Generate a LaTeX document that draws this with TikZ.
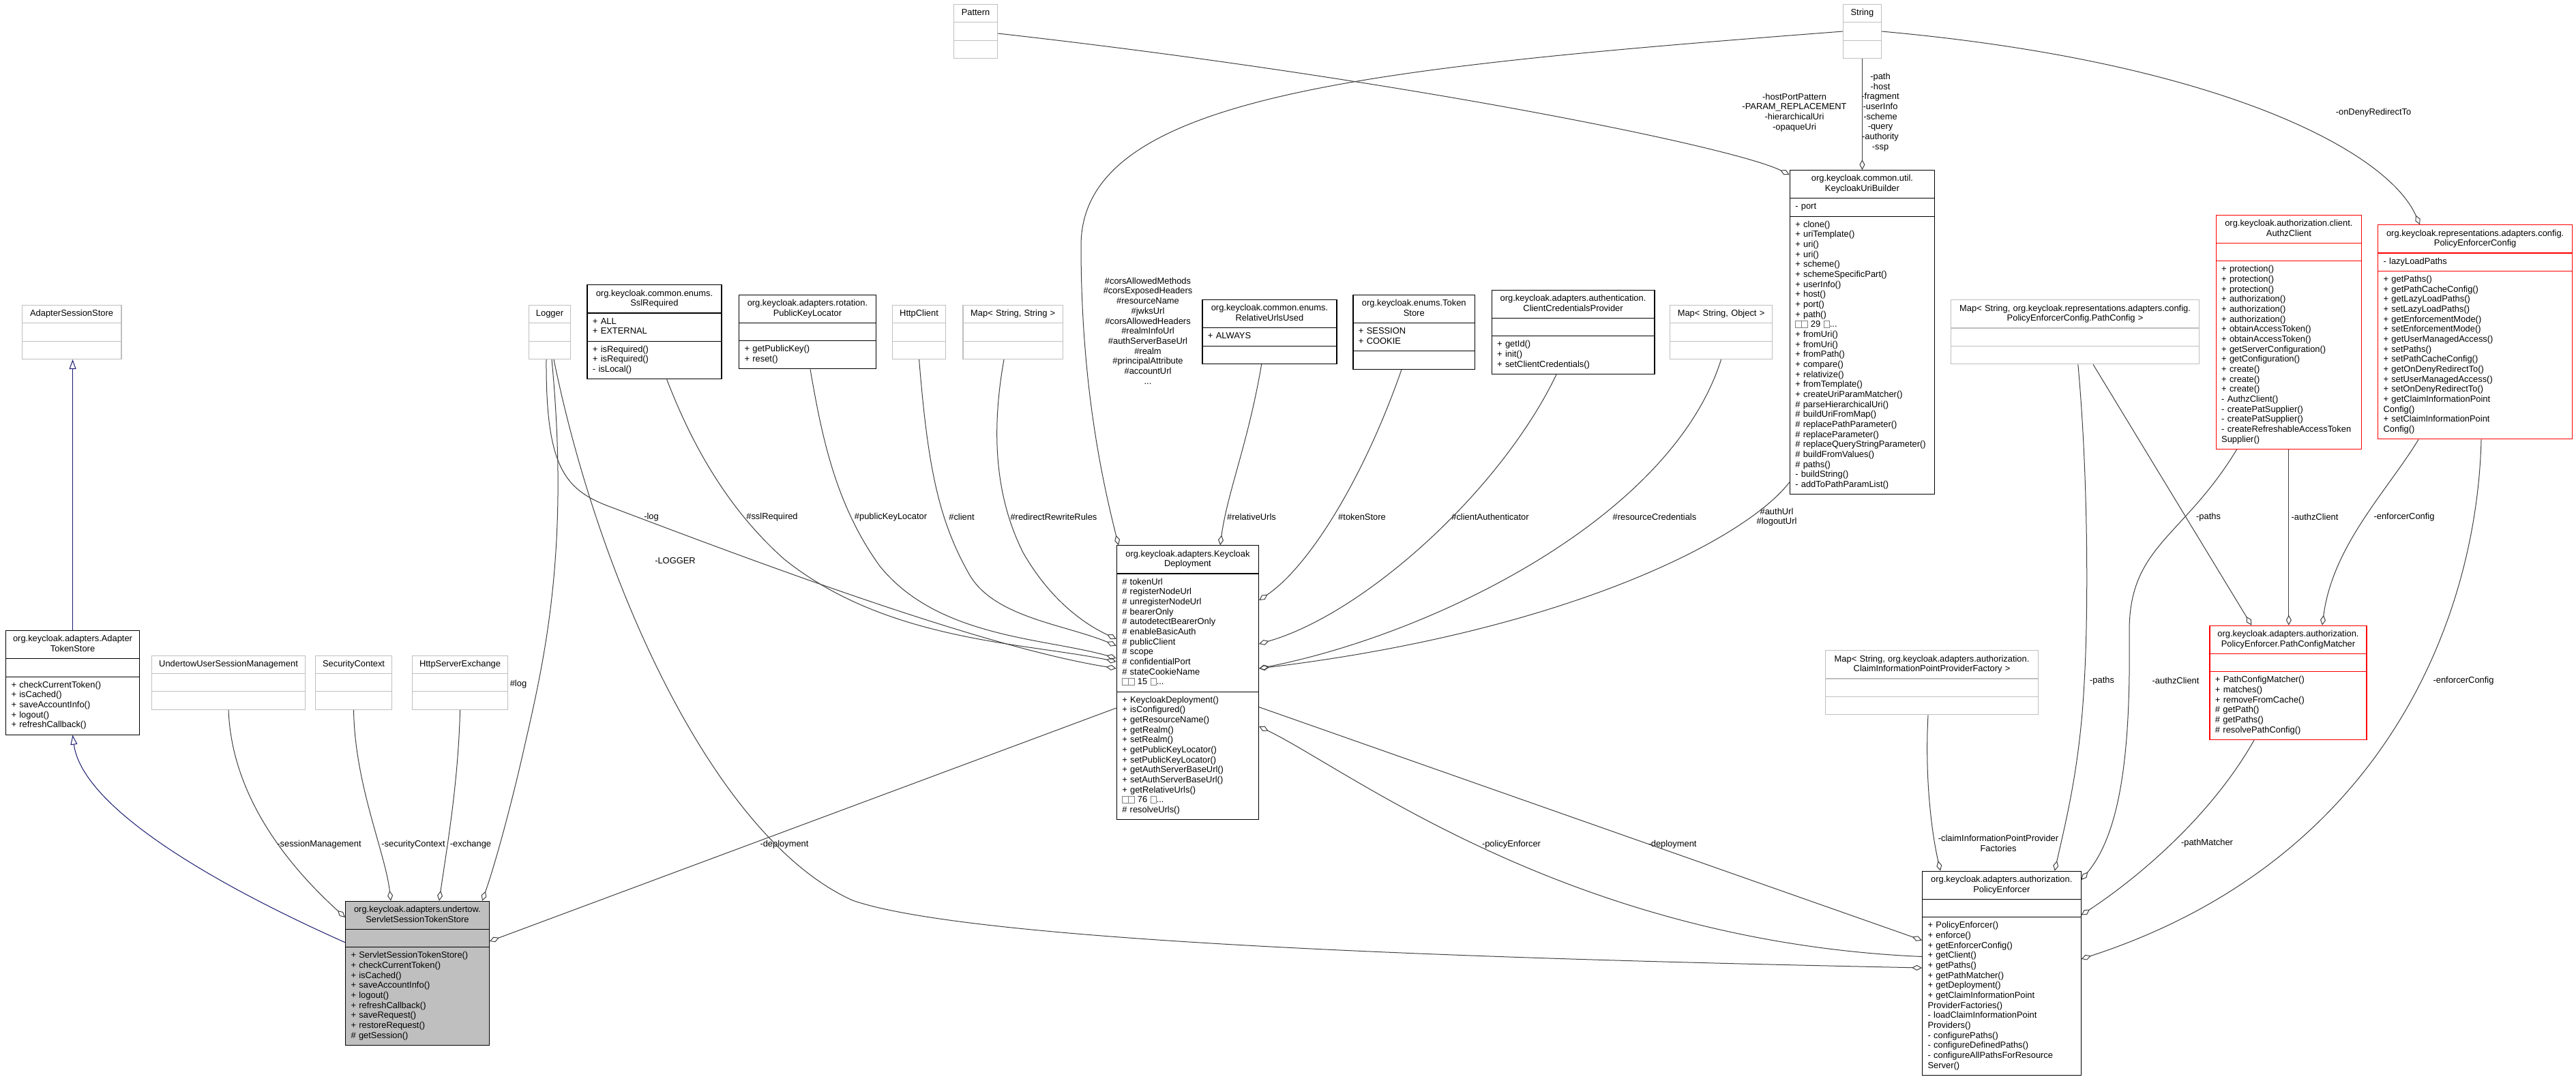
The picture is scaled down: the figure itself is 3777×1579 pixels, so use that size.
\documentclass[tikz,border=0pt]{standalone}
\usepackage{fontspec}
\setmainfont{Liberation Sans}
\usetikzlibrary{shapes.multipart,arrows.meta}
\definecolor{edgegray}{HTML}{404040}
\definecolor{extgray}{HTML}{BFBFBF}
\definecolor{inhblue}{HTML}{191970}
\newcommand{\dxfont}{\fontsize{12.9pt}{14.67pt}\selectfont}
\newcommand{\lalign}{\raggedright\parfillskip=0pt plus 1fil\relax}
\newcommand{\gbox}{{\setlength{\fboxsep}{0pt}\setlength{\fboxrule}{0.6pt}\color{gray}\fbox{\rule{0pt}{9pt}\hspace{8pt}}}}
\tikzstyle{classbox} = [rectangle split, rectangle split parts=3, draw, fill=white, anchor=north west, font=\dxfont, align=center, inner xsep=8pt, inner ysep=5.33pt, line width=1.1pt]
\tikzstyle{docbox} = [classbox, draw=black]
\tikzstyle{extbox} = [classbox, draw=extgray]
\tikzstyle{redbox} = [classbox, draw=red]
\tikzstyle{selfbox} = [classbox, draw=black, fill=extgray]
\tikzstyle{aggline} = [draw=edgegray, line width=1pt, -{Diamond[open, length=15pt, width=8pt]}]
\tikzstyle{inhline} = [draw=inhblue, line width=1pt, -{Triangle[open, length=14pt, width=10pt]}]
\tikzstyle{edgelbl} = [font=\dxfont, align=center, inner sep=0pt]

\begin{document}
\begin{tikzpicture}[x=1pt, y=-1pt]
	\path[fill=white, use as bounding box] (0,0) rectangle (3777,1579);
	% rank 0
	\node [extbox, text width=48pt] (pattern) at (1398,5.7) {\strut Pattern\strut \nodepart{two}\strut \nodepart{three}\strut};
	\node [extbox, text width=39.7pt] (string) at (2702,5.7) {\strut String\strut \nodepart{two}\strut \nodepart{three}\strut};
	% rank 2
	\node [extbox, text width=129.8pt] (adss) at (31.6,446.7) {\strut AdapterSessionStore\strut \nodepart{two}\strut \nodepart{three}\strut};
	\node [extbox, text width=45pt] (logger) at (775,446.7) {\strut Logger\strut \nodepart{two}\strut \nodepart{three}\strut};
	\node [docbox, text width=181pt] (sslreq) at (860.4,417.3) {\strut org.keycloak.common.enums.\\SslRequired\strut
		\nodepart{two}\lalign\strut + ALL\\+ EXTERNAL\strut\par
		\nodepart{three}\lalign\strut + isRequired()\\+ isRequired()\\- isLocal()\strut\par};
	\node [docbox, text width=184.8pt] (pkloc) at (1083,431.7) {\strut org.keycloak.adapters.rotation.\\PublicKeyLocator\strut
		\nodepart{two}\strut
		\nodepart{three}\lalign\strut + getPublicKey()\\+ reset()\strut\par};
	\node [extbox, text width=62pt] (httpc) at (1308,446.7) {\strut HttpClient\strut \nodepart{two}\strut \nodepart{three}\strut};
	\node [extbox, text width=130.6pt] (mapss) at (1411.4,446.7) {\strut Map< String, String >\strut \nodepart{two}\strut \nodepart{three}\strut};
	\node [docbox, text width=181pt] (relurl) at (1762.4,439) {\strut org.keycloak.common.enums.\\RelativeUrlsUsed\strut
		\nodepart{two}\lalign\strut + ALWAYS\strut\par
		\nodepart{three}\strut};
	\node [docbox, text width=162.6pt] (tstore) at (1983.4,432) {\strut org.keycloak.enums.Token\\Store\strut
		\nodepart{two}\lalign\strut + SESSION\\+ COOKIE\strut\par
		\nodepart{three}\strut};
	\node [docbox, text width=222.8pt] (ccprov) at (2186.6,424.7) {\strut org.keycloak.adapters.authentication.\\ClientCredentialsProvider\strut
		\nodepart{two}\strut
		\nodepart{three}\lalign\strut + getId()\\+ init()\\+ setClientCredentials()\strut\par};
	\node [extbox, text width=134pt] (mapso) at (2448,446.7) {\strut Map< String, Object >\strut \nodepart{two}\strut \nodepart{three}\strut};
	\node [docbox, text width=196.4pt] (kub) at (2623.7,249) {\strut org.keycloak.common.util.\\KeycloakUriBuilder\strut
		\nodepart{two}\lalign\strut - port\strut\par
		\nodepart{three}\lalign\strut + clone()\\+ uriTemplate()\\+ uri()\\+ uri()\\+ scheme()\\+ schemeSpecificPart()\\+ userInfo()\\+ host()\\+ port()\\+ path()\\\gbox\gbox{} 29 \gbox...\\+ fromUri()\\+ fromUri()\\+ fromPath()\\+ compare()\\+ relativize()\\+ fromTemplate()\\+ createUriParamMatcher()\\\# parseHierarchicalUri()\\\# buildUriFromMap()\\\# replacePathParameter()\\\# replaceParameter()\\\# replaceQueryStringParameter()\\\# buildFromValues()\\\# paths()\\- buildString()\\- addToPathParamList()\strut\par};
	\node [extbox, text width=348pt] (mappc) at (2860,439.3) {\strut Map< String, org.keycloak.representations.adapters.config.\\PolicyEnforcerConfig.PathConfig >\strut \nodepart{two}\strut \nodepart{three}\strut};
	\node [redbox, text width=197.4pt] (authz) at (3248.6,314.7) {\strut org.keycloak.authorization.client.\\AuthzClient\strut
		\nodepart{two}\strut
		\nodepart{three}\lalign\strut + protection()\\+ protection()\\+ protection()\\+ authorization()\\+ authorization()\\+ authorization()\\+ obtainAccessToken()\\+ obtainAccessToken()\\+ getServerConfiguration()\\+ getConfiguration()\\+ create()\\+ create()\\+ create()\\- AuthzClient()\\- createPatSupplier()\\- createPatSupplier()\\- createRefreshableAccessToken\\Supplier()\strut\par};
	\node [redbox, text width=269.2pt] (pecfg) at (3486,329.3) {\strut org.keycloak.representations.adapters.config.\\PolicyEnforcerConfig\strut
		\nodepart{two}\lalign\strut - lazyLoadPaths\strut\par
		\nodepart{three}\lalign\strut + getPaths()\\+ getPathCacheConfig()\\+ getLazyLoadPaths()\\+ setLazyLoadPaths()\\+ getEnforcementMode()\\+ setEnforcementMode()\\+ getUserManagedAccess()\\+ setPaths()\\+ setPathCacheConfig()\\+ getOnDenyRedirectTo()\\+ setUserManagedAccess()\\+ setOnDenyRedirectTo()\\+ getClaimInformationPoint\\Config()\\+ setClaimInformationPoint\\Config()\strut\par};
	% rank 4
	\node [docbox, text width=180pt] (ats) at (8,924) {\strut org.keycloak.adapters.Adapter\\TokenStore\strut
		\nodepart{two}\strut
		\nodepart{three}\lalign\strut + checkCurrentToken()\\+ isCached()\\+ saveAccountInfo()\\+ logout()\\+ refreshCallback()\strut\par};
	\node [extbox, text width=209pt] (uusm) at (222,960.5) {\strut UndertowUserSessionManagement\strut \nodepart{two}\strut \nodepart{three}\strut};
	\node [extbox, text width=96pt] (secctx) at (462,960.5) {\strut SecurityContext\strut \nodepart{two}\strut \nodepart{three}\strut};
	\node [extbox, text width=124pt] (hsex) at (604,960.5) {\strut HttpServerExchange\strut \nodepart{two}\strut \nodepart{three}\strut};
	\node [docbox, text width=192.3pt] (kdep) at (1636.7,799.3) {\strut org.keycloak.adapters.Keycloak\\Deployment\strut
		\nodepart{two}\lalign\strut \# tokenUrl\\\# registerNodeUrl\\\# unregisterNodeUrl\\\# bearerOnly\\\# autodetectBearerOnly\\\# enableBasicAuth\\\# publicClient\\\# scope\\\# confidentialPort\\\# stateCookieName\\\gbox\gbox{} 15 \gbox...\strut\par
		\nodepart{three}\lalign\strut + KeycloakDeployment()\\+ isConfigured()\\+ getResourceName()\\+ getRealm()\\+ setRealm()\\+ getPublicKeyLocator()\\+ setPublicKeyLocator()\\+ getAuthServerBaseUrl()\\+ setAuthServerBaseUrl()\\+ getRelativeUrls()\\\gbox\gbox{} 76 \gbox...\\\# resolveUrls()\strut\par};
	\node [extbox, text width=296pt] (mapcip) at (2676,953.3) {\strut Map< String, org.keycloak.adapters.authorization.\\ClaimInformationPointProviderFactory >\strut \nodepart{two}\strut \nodepart{three}\strut};
	\node [redbox, text width=214pt] (pcm) at (3239.4,916.7) {\strut org.keycloak.adapters.authorization.\\PolicyEnforcer.PathConfigMatcher\strut
		\nodepart{two}\strut
		\nodepart{three}\lalign\strut + PathConfigMatcher()\\+ matches()\\+ removeFromCache()\\\# getPath()\\\# getPaths()\\\# resolvePathConfig()\strut\par};
	% rank 6
	\node [selfbox, text width=194.7pt] (ssts) at (506,1320.7) {\strut org.keycloak.adapters.undertow.\\ServletSessionTokenStore\strut
		\nodepart{two}\strut
		\nodepart{three}\lalign\strut + ServletSessionTokenStore()\\+ checkCurrentToken()\\+ isCached()\\+ saveAccountInfo()\\+ logout()\\+ refreshCallback()\\+ saveRequest()\\+ restoreRequest()\\\# getSession()\strut\par};
	\node [docbox, text width=216.5pt] (penf) at (2818,1276.7) {\strut org.keycloak.adapters.authorization.\\PolicyEnforcer\strut
		\nodepart{two}\strut
		\nodepart{three}\lalign\strut + PolicyEnforcer()\\+ enforce()\\+ getEnforcerConfig()\\+ getClient()\\+ getPaths()\\+ getPathMatcher()\\+ getDeployment()\\+ getClaimInformationPoint\\ProviderFactories()\\- loadClaimInformationPoint\\Providers()\\- configurePaths()\\- configureDefinedPaths()\\- configureAllPathsForResource\\Server()\strut\par};
	% edge labels
	\node [edgelbl] (l-uri1) at (2631,164.7) {-hostPortPattern\\-PARAM\_REPLACEMENT\\-hierarchicalUri\\-opaqueUri};
	\node [edgelbl] (l-uri2) at (2757,164.4) {-path\\-host\\-fragment\\-userInfo\\-scheme\\-query\\-authority\\-ssp};
	\node [edgelbl] (l-deny) at (3480,165) {-onDenyRedirectTo};
	\node [edgelbl] (l-cors) at (1683,485) {\#corsAllowedMethods\\\#corsExposedHeaders\\\#resourceName\\\#jwksUrl\\\#corsAllowedHeaders\\\#realmInfoUrl\\\#authServerBaseUrl\\\#realm\\\#principalAttribute\\\#accountUrl\\...};
	\node [edgelbl] (l-log) at (955,758) {-log};
	\node [edgelbl] (l-ssl) at (1132,758) {\#sslRequired};
	\node [edgelbl] (l-pkl) at (1306,758) {\#publicKeyLocator};
	\node [edgelbl] (l-cli) at (1410,758) {\#client};
	\node [edgelbl] (l-rrr) at (1545,758) {\#redirectRewriteRules};
	\node [edgelbl] (l-rel) at (1835,758) {\#relativeUrls};
	\node [edgelbl] (l-tok) at (1997,758) {\#tokenStore};
	\node [edgelbl] (l-cca) at (2185,758) {\#clientAuthenticator};
	\node [edgelbl] (l-rcr) at (2426,758) {\#resourceCredentials};
	\node [edgelbl] (l-aut) at (2605,758) {\#authUrl\\\#logoutUrl};
	\node [edgelbl] (l-pth1) at (3238,758) {-paths};
	\node [edgelbl] (l-azc1) at (3394,758) {-authzClient};
	\node [edgelbl] (l-enf1) at (3525,758) {-enforcerConfig};
	\node [edgelbl] (l-hlog) at (760,1003) {\#log};
	\node [edgelbl] (l-logger) at (990,822) {-LOGGER};
	\node [edgelbl] (l-pth2) at (3082,998) {-paths};
	\node [edgelbl] (l-azc2) at (3190,998) {-authzClient};
	\node [edgelbl] (l-enf2) at (3612,998) {-enforcerConfig};
	\node [edgelbl] (l-ses) at (468,1238) {-sessionManagement};
	\node [edgelbl] (l-sec) at (606,1238) {-securityContext};
	\node [edgelbl] (l-exc) at (690,1238) {-exchange};
	\node [edgelbl] (l-dep1) at (1150,1238) {-deployment};
	\node [edgelbl] (l-pol) at (2216,1238) {-policyEnforcer};
	\node [edgelbl] (l-dep2) at (2452,1238) {-deployment};
	\node [edgelbl] (l-cip) at (2930,1236.5) {-claimInformationPointProvider\\Factories};
	\node [edgelbl] (l-pm) at (3236,1236) {-pathMatcher};
	% inheritance
	\draw[inhline] (ats.north) -- (ats.north |- adss.south);
	\draw[inhline] (ssts.west |- 0,1381.7) .. controls (300,1290) and (120,1180) .. (ats.south);
	% members from rank 0
	\draw[aggline] (pattern.east |- 0,49) .. controls (2050,115) and (2540,215) .. (kub.west |- 0,256);
	\draw[aggline] (string.south) -- (string.south |- kub.north);
	\draw[aggline] (string.east |- 0,46) .. controls (3250,90) and (3500,220) .. (pecfg.north -| 3548,0);
	\draw[aggline] (string.west |- 0,46) .. controls (2000,100) and (1585,140) .. (1585,360) .. controls (1585,560) and (1615,700) .. (kdep.north -| 1640,0);
	% members of KeycloakDeployment
	\draw[aggline] (logger.south -| 801,0) .. controls (800,690) and (830,720) .. (900,745) .. controls (1150,840) and (1450,950) .. (kdep.west |- 0,980);
	\draw[aggline] (sslreq.south -| 977.7,0) .. controls (1010,640) and (1060,740) .. (1150,820) .. controls (1300,940) and (1500,942) .. (kdep.west |- 0,970);
	\draw[aggline] (pkloc.south -| 1188,0) .. controls (1205,640) and (1225,740) .. (1290,830) .. controls (1375,935) and (1530,935) .. (kdep.west |- 0,965);
	\draw[aggline] (httpc.south -| 1347.6,0) .. controls (1360,680) and (1375,760) .. (1420,840) .. controls (1455,905) and (1560,915) .. (kdep.west |- 0,946.7);
	\draw[aggline] (mapss.south -| 1472,0) .. controls (1450,650) and (1465,740) .. (1500,810) .. controls (1540,880) and (1590,915) .. (kdep.west |- 0,936.7);
	\draw[aggline] (relurl.south -| 1849.7,0) .. controls (1830,650) and (1800,720) .. (kdep.north -| 1789,0);
	\draw[aggline] (tstore.south -| 2055,0) .. controls (2000,700) and (1920,830) .. (kdep.east |- 0,880);
	\draw[aggline] (ccprov.south -| 2282,0) .. controls (2200,720) and (2000,900) .. (kdep.east |- 0,944);
	\draw[aggline] (mapso.south) .. controls (2450,760) and (2100,930) .. (kdep.east |- 0,980);
	\draw[aggline] (kub.west |- 0,707) .. controls (2560,790) and (2300,925) .. (kdep.east |- 0,980);
	\draw[aggline] (penf.west |- 0,1402.5) .. controls (2300,1380) and (1980,1130) .. (kdep.east |- 0,1065);
	% members of PathConfigMatcher
	\draw[aggline] (mappc.south -| 3069,0) -- (pcm.north -| 3301.3,0);
	\draw[aggline] (authz.south) -- (authz.south |- pcm.north);
	\draw[aggline] (pecfg.south -| 3546,0) .. controls (3500,720) and (3420,800) .. (pcm.north -| 3405,0);
	% members of PolicyEnforcer
	\draw[aggline] (mappc.south -| 3046.8,0) .. controls (3062,700) and (3062,900) .. (3056,1000) .. controls (3050,1120) and (3030,1200) .. (penf.north -| 3012.6,0);
	\draw[aggline] (authz.south -| 3279.5,0) .. controls (3200,790) and (3120,800) .. (3122,930) .. controls (3124,1100) and (3110,1220) .. (penf.east |- 0,1290);
	\draw[aggline] (pecfg.south -| 3638,0) .. controls (3632,900) and (3500,1260) .. (penf.east |- 0,1406);
	\draw[aggline] (pcm.south -| 3305,0) .. controls (3240,1200) and (3130,1290) .. (penf.east |- 0,1341.6);
	\draw[aggline] (mapcip.south -| 2827,0) .. controls (2822,1140) and (2832,1220) .. (penf.north -| 2845,0);
	\draw[aggline] (kdep.east |- 0,1036.7) -- (penf.west |- 0,1378.5);
	\draw[aggline] (logger.south -| 812,0) .. controls (880,860) and (1050,1230) .. (1250,1320) .. controls (1450,1390) and (2400,1410) .. (penf.west |- 0,1419);
	% members of ServletSessionTokenStore
	\draw[aggline] (uusm.south) .. controls (340,1180) and (440,1285) .. (ssts.west |- 0,1345);
	\draw[aggline] (secctx.south) .. controls (520,1150) and (565,1250) .. (ssts.north -| 573,0);
	\draw[aggline] (hsex.south) .. controls (672,1150) and (654,1250) .. (ssts.north -| 644,0);
	\draw[aggline] (logger.south -| 809,0) .. controls (835,800) and (800,960) .. (770,1090) .. controls (750,1180) and (725,1270) .. (ssts.north -| 707,0);
	\draw[aggline] (kdep.west |- 0,1038) -- (ssts.east |- 0,1380);
\end{tikzpicture}
\end{document}
